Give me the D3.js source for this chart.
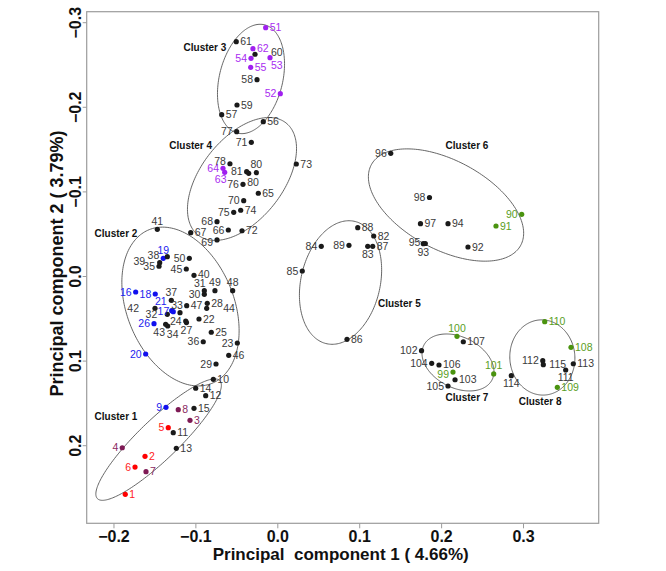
<!DOCTYPE html>
<html>
<head>
<meta charset="utf-8">
<script src="https://cdn.jsdelivr.net/npm/d3@7"></script>
<style>
  html, body { margin: 0; padding: 0; background: #fff; }
  svg { display: block; font-family: "Liberation Sans", Arial, Helvetica, sans-serif; }
</style>
</head>
<body>
<svg id="chart" width="666" height="571"></svg>
<script>
// ---------------- data ----------------
const pointLabels = ["1","2","3","4","5","6","7","8","9","10","11","12","13","14","15",
  "16","17","18","19","20","21","22","23","24","25","26","27","28","29","30","31","32","33","34","35",
  "36","37","38","39","40","41","42","43","44","45","46","47","48","49","50",
  "51","52","53","54","55","56","57","58","59","60","61","62",
  "63","64","65","66","67","68","69","70","71","72","73","74","75","76","77","78","80","80","81",
  "82","83","84","85","86","87","88","89",
  "90","91","92","93","94","95","96","97","98",
  "99","100","101","102","103","104","105","106","107",
  "108","109","110","111","112","113","114","115"];

const pc1 = [-0.1856,-0.1615,-0.1066,-0.1893,-0.1331,-0.1737,-0.1603,-0.1209,-0.1359,-0.0781,-0.1270,-0.0874,-0.1233,-0.0996,-0.1017,
  -0.1729,-0.1270,-0.1490,-0.1392,-0.1607,-0.1289,-0.0956,-0.0488,-0.1118,-0.0806,-0.1505,-0.1109,-0.0855,-0.0748,-0.0891,-0.0891,-0.1343,-0.1188,-0.1338,-0.1444,
  -0.0904,-0.1294,-0.1343,-0.1436,-0.1017,-0.1465,-0.1493,-0.1363,-0.0862,-0.1111,-0.0593,-0.1106,-0.0545,-0.0761,-0.1074,
  -0.0142,0.0037,-0.0089,-0.0321,-0.0325,-0.0171,-0.0679,-0.0248,-0.0492,-0.0272,-0.0501,-0.0297,
  -0.0642,-0.0663,-0.0232,-0.0598,-0.1057,-0.0736,-0.0736,-0.0410,-0.0317,-0.0431,0.0232,-0.0447,-0.0532,-0.0419,-0.0496,-0.0578,-0.0349,-0.0256,-0.0374,
  0.1177,0.1104,0.0537,0.0305,0.0851,0.1165,0.0982,0.0875,
  0.2984,0.2670,0.2328,0.1807,0.2084,0.1783,0.1385,0.1748,0.1858,
  0.2145,0.2194,0.2642,0.1761,0.2170,0.1885,0.2084,0.1974,0.2271,
  0.3586,0.3419,0.3265,0.3521,0.3241,0.3614,0.2857,0.3248];

const pc2 = [0.2580,0.2131,0.1706,0.2030,0.1793,0.2258,0.2313,0.1580,0.1552,0.1221,0.1852,0.1415,0.2037,0.1327,0.1564,
  0.0189,0.0422,0.0213,-0.0209,0.0922,0.0410,0.0508,0.0792,0.0532,0.0665,0.0564,0.0550,0.0323,0.1040,0.0216,0.0174,0.0453,0.0434,0.0591,-0.0115,
  0.0777,0.0287,-0.0228,-0.0157,-0.0008,-0.0552,0.0382,0.0571,0.0382,-0.0083,0.0937,0.0351,0.0174,0.0174,-0.0209,
  -0.2935,-0.2155,-0.2580,-0.2573,-0.2467,-0.1824,-0.1907,-0.2320,-0.2021,-0.2621,-0.2770,-0.2687,
  -0.1226,-0.1273,-0.0978,-0.0544,-0.0512,-0.0642,-0.0426,-0.0890,-0.1580,-0.0535,-0.1324,-0.0777,-0.0753,-0.1084,-0.1706,-0.1327,-0.1214,-0.1221,-0.1233,
  -0.0473,-0.0351,-0.0351,-0.0059,0.0748,-0.0351,-0.0571,-0.0363,
  -0.0729,-0.0591,-0.0343,-0.0384,-0.0618,-0.0382,-0.1450,-0.0618,-0.0928,
  0.1135,0.0713,0.1158,0.0883,0.1226,0.1032,0.1300,0.1052,0.0777,
  0.0843,0.1316,0.0540,0.1111,0.1001,0.1037,0.1178,0.1048];

// colour group of each point: k black, r red, m maroon, b blue, p purple, g green
const colourGroup = ["r","r","m","m","r","r","m","m","b","k","k","k","k","k","k",
  "b","b","b","b","b","b","k","k","k","k","b","k","k","k","k","k","k","k","k","k",
  "k","k","k","k","k","k","k","k","k","k","k","k","k","k","k",
  "p","p","p","p","p","k","k","k","k","k","k","p",
  "p","p","k","k","k","k","k","k","k","k","k","k","k","k","k","k","k","k","k",
  "k","k","k","k","k","k","k","k",
  "g","g","k","k","k","k","k","k","k",
  "g","g","g","k","k","k","k","k","k",
  "g","g","g","k","k","k","k","k"];

// cluster ellipses (data units): centre, semi-axes, angle of major axis
const clusterNames = ["Cluster 1","Cluster 2","Cluster 3","Cluster 4","Cluster 5","Cluster 6","Cluster 7","Cluster 8"];
const ellCx    = [-0.1449,-0.1182,-0.0321,-0.0431,0.0772,0.2060,0.2206,0.3236];
const ellCy    = [ 0.1934, 0.0361,-0.2329,-0.1147,0.0077,-0.0839,0.1022,0.0963];
const ellA     = [ 0.1022, 0.0986, 0.0661, 0.0853,0.0743,0.1029,0.0464,0.0445];
const ellB     = [ 0.0240, 0.0649, 0.0385, 0.0493,0.0483,0.0529,0.0302,0.0397];
const ellAngle = [ -42.9, 66, -75, -50, -76, 27, 25, 85];
const clusterLabelX = [-0.1969,-0.1969,-0.0883,-0.1057,0.1490,0.2316,0.2316,0.3208];
const clusterLabelY = [ 0.1655,-0.0505,-0.2699,-0.1540,0.0323,-0.1540,0.1434,0.1478];

const xTicks = [-0.2,-0.1,0.0,0.1,0.2,0.3];
const yTicks = [-0.3,-0.2,-0.1,0.0,0.1,0.2];
const xTitle = "Principal  component 1 ( 4.66%)";
const yTitle = "Principal component 2 ( 3.79%)";

// ---------------- layout / style ----------------
const colours = { k:"#1a1a1a", r:"#ff0000", m:"#7e1a55", b:"#1010ee", p:"#a020f0", g:"#4a930f" };
const labelColours = { k:"#3a3a3a", r:"#ff1a1a", m:"#8a2a62", b:"#2222ee", p:"#a82cf0", g:"#5a9e1e" };
// label side: r right, l left, t top, b bottom, c custom
const labelSide = ["r","r","r","l","l","l","r","r","l","r","r","r","r","r","r",
  "l","l","l","t","l","c","r","l","l","r","l","b","r","l","l","c","c","c","c","l",
  "l","t","c","c","c","t","c","c","c","l","r","r","t","t","l",
  "r","l","c","l","r","r","r","l","r","c","r","r",
  "c","l","r","l","r","l","c","l","l","r","r","r","l","l","l","c","c","t","l",
  "r","b","l","l","r","r","r","l",
  "l","r","r","c","r","c","l","r","l",
  "c","t","t","l","r","l","l","c","r",
  "r","r","r","b","l","r","b","c"];
// custom label offsets [dx, dy, anchor] for crowded points (index -> offset)
const labelNudge = {
  20:[-5,-6,"end"], 30:[-4.5,-3.5,"middle"], 31:[-10,3.5,"end"], 32:[-3,-4,"middle"], 33:[5,12,"middle"],
  37:[-8,2,"end"], 38:[-14.5,2,"end"], 39:[4,2.5,"start"], 41:[-16,3.5,"end"], 42:[-6.5,12,"middle"], 43:[16.5,3.5,"start"],
  52:[1,11.5,"start"], 59:[16,2,"start"], 62:[-4,11,"middle"], 68:[-4,6,"end"], 77:[-4,1,"end"], 78:[-1.5,12.5,"start"],
  92:[-2,12,"middle"], 94:[-3,2,"end"], 98:[-4,6,"end"], 105:[4,2.5,"start"], 114:[6,3.5,"start"]
};

const svg = d3.select("#chart");
const x = d3.scaleLinear().domain([-0.2327, 0.3924]).range([86.7, 598.7]);
const y = d3.scaleLinear().domain([-0.3124, 0.2923]).range([11.7, 523.3]);
const [x0, x1] = x.range(), [y0, y1] = y.range();

// box
svg.append("rect").attr("x", x0).attr("y", y0).attr("width", x1 - x0).attr("height", y1 - y0)
  .attr("fill", "none").attr("stroke", "#9c9c9c").attr("stroke-width", 1.2);

const fmt = d3.format(".1f");
// x axis
const gx = svg.append("g").attr("transform", `translate(0,${y1})`)
  .call(d3.axisBottom(x).tickValues(xTicks).tickSize(5).tickPadding(2).tickFormat(fmt));
gx.select(".domain").remove();
gx.selectAll(".tick line").attr("stroke", "#9c9c9c");
gx.selectAll(".tick text").attr("font-size", 16).attr("font-weight", "bold").attr("fill", "#111")
  .attr("font-family", "'Liberation Sans', Arial, sans-serif");

// y axis
const gy = svg.append("g").attr("transform", `translate(${x0},0)`)
  .call(d3.axisLeft(y).tickValues(yTicks).tickSize(4).tickFormat(fmt));
gy.select(".domain").remove();
gy.selectAll(".tick line").attr("stroke", "#9c9c9c");
gy.selectAll(".tick text").attr("x", null).attr("dy", null)
  .attr("transform", "translate(-5.5,0) rotate(-90)")
  .attr("text-anchor", "middle")
  .attr("font-size", 16).attr("font-weight", "bold").attr("fill", "#111")
  .attr("font-family", "'Liberation Sans', Arial, sans-serif");

// axis titles
svg.append("text").attr("x", (x0 + x1) / 2 - 2).attr("y", 560)
  .attr("text-anchor", "middle").attr("font-size", 17).attr("font-weight", "bold").attr("fill", "#111")
  .style("white-space", "pre").text(xTitle);
svg.append("text").attr("transform", `translate(63,${(y0 + y1) / 2 - 4}) rotate(-90)`)
  .attr("text-anchor", "middle").attr("font-size", 18).attr("font-weight", "bold").attr("fill", "#111")
  .text(yTitle);

// ellipses
const ellLine = d3.line();
clusterNames.forEach((name, i) => {
  const phi = ellAngle[i] * Math.PI / 180;
  const pts = d3.range(0, 201).map(k => {
    const t = k / 200 * 2 * Math.PI;
    const dx = ellA[i] * Math.cos(t) * Math.cos(phi) - ellB[i] * Math.sin(t) * Math.sin(phi);
    const dy = ellA[i] * Math.cos(t) * Math.sin(phi) + ellB[i] * Math.sin(t) * Math.cos(phi);
    return [x(ellCx[i] + dx), y(ellCy[i] + dy)];
  });
  svg.append("path").attr("d", ellLine(pts)).attr("fill", "none")
    .attr("stroke", "#555").attr("stroke-width", 0.9);
  svg.append("text").attr("x", x(clusterLabelX[i])).attr("y", y(clusterLabelY[i]))
    .attr("dy", "0.35em").attr("text-anchor", "middle")
    .attr("font-size", 10).attr("font-weight", "bold").attr("fill", "#111").text(name);
});

// points and labels
const pts = pointLabels.map((lab, i) => ({ lab, i, px: x(pc1[i]), py: y(pc2[i]), g: colourGroup[i] }));
svg.append("g").selectAll("circle").data(pts).join("circle")
  .attr("cx", d => d.px).attr("cy", d => d.py).attr("r", 2.6)
  .attr("fill", d => colours[d.g]);

svg.append("g").selectAll("text").data(pts).join("text")
  .attr("font-size", 10.5)
  .attr("fill", d => labelColours[d.g])
  .each(function(d) {
    const s = labelSide[d.i];
    let dx = 4, dy = 3.7, anchor = "start";
    if (labelNudge[d.i]) { [dx, dy, anchor] = labelNudge[d.i]; }
    else if (s === "l") { dx = -4; anchor = "end"; }
    else if (s === "t") { dx = 0; dy = -4.5; anchor = "middle"; }
    else if (s === "b") { dx = 0; dy = 11.5; anchor = "middle"; }
    d3.select(this).attr("x", d.px + dx).attr("y", d.py + dy).attr("text-anchor", anchor);
  })
  .text(d => d.lab);
</script>
</body>
</html>
